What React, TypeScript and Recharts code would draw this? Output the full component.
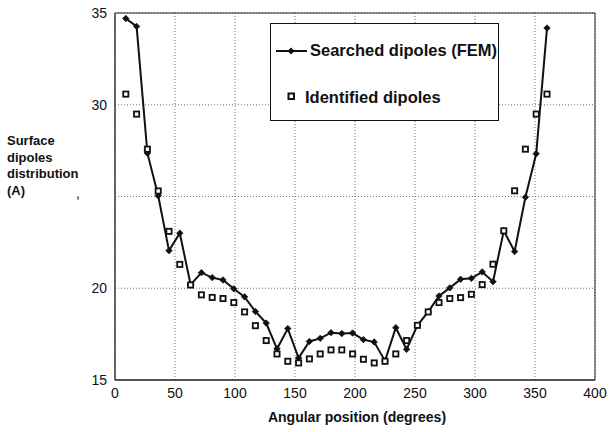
import React from "react";
import {
  LineChart,
  Line,
  XAxis,
  YAxis,
  CartesianGrid,
  Legend,
  ReferenceArea,
} from "recharts";

// angular positions, every 9 degrees
const angles = [
  9, 18, 27, 36, 45, 54, 63, 72, 81, 90, 99, 108, 117, 126, 135, 144, 153, 162,
  171, 180, 189, 198, 207, 216, 225, 234, 243, 252, 261, 270, 279, 288, 297,
  306, 315, 324, 333, 342, 351, 360,
];

// searched dipoles (FEM) – line with diamonds
const searched = [
  34.7, 34.27, 27.36, 25.04, 22.05, 23.0, 20.2, 20.85, 20.58, 20.45, 19.97,
  19.53, 18.73, 18.1, 16.7, 17.8, 16.2, 17.1, 17.27, 17.58, 17.53, 17.56, 17.2,
  17.07, 16.04, 17.85, 16.67, 17.98, 18.71, 19.58, 20.02, 20.49, 20.54, 20.89,
  20.36, 23.13, 22.0, 24.96, 27.33, 34.18,
];

// identified dipoles – open squares
const identified = [
  30.58, 29.49, 27.58, 25.3, 23.1, 21.3, 20.18, 19.64, 19.5, 19.44, 19.22,
  18.71, 17.96, 17.15, 16.42, 16.02, 15.93, 16.15, 16.42, 16.64, 16.64, 16.42,
  16.13, 15.93, 16.02, 16.42, 17.15, 17.98, 18.71, 19.22, 19.44, 19.49, 19.67,
  20.2, 21.31, 23.13, 25.31, 27.58, 29.49, 30.58,
];

const xTicks = [0, 50, 100, 150, 200, 250, 300, 350, 400];
const yTicks = [15, 20, 25, 30, 35];

const FONT = "'Liberation Sans', Arial, Helvetica, sans-serif";

const data = angles.map((a, i) => ({
  angle: a,
  searched: searched[i],
  identified: identified[i],
}));

const Diamond = (props: any) => {
  const { cx, cy, index } = props;
  if (cx == null || cy == null) return <g key={`d-${index}`} />;
  const r = 3.2;
  return (
    <path
      key={`d-${index}`}
      d={`M${cx},${cy - r}L${cx + r},${cy}L${cx},${cy + r}L${cx - r},${cy}Z`}
      fill="#111"
      stroke="#111"
      strokeWidth={0.8}
    />
  );
};

const Square = (props: any) => {
  const { cx, cy, index } = props;
  if (cx == null || cy == null) return <g key={`s-${index}`} />;
  return (
    <rect
      key={`s-${index}`}
      x={cx - 2.6}
      y={cy - 2.6}
      width={5.2}
      height={5.2}
      fill="#fff"
      stroke="#111"
      strokeWidth={1.8}
    />
  );
};

const YTick = (props: any) => {
  const { x, y, payload } = props;
  if (payload.value === 25) {
    // stray comma left of the axis in the original figure
    return (
      <text x={x - 27} y={y - 3} dy="0.35em" textAnchor="end" fontSize={14} fill="#111" fontFamily={FONT}>
        ,
      </text>
    );
  }
  return (
    <text x={x} y={y} dy="0.35em" textAnchor="end" fontSize={14} fill="#111" fontFamily={FONT}>
      {payload.value}
    </text>
  );
};

const renderLegend = () => (
  <div
    style={{
      width: 229,
      height: 98,
      boxSizing: "border-box",
      border: "1.5px solid #111",
      background: "#fff",
      fontFamily: FONT,
      fontWeight: "bold",
      fontSize: 16.5,
      color: "#111",
      position: "relative",
    }}
  >
    <svg width={40} height={98} style={{ position: "absolute", left: 0, top: 0 }}>
      <line x1={5} y1={27} x2={36} y2={27} stroke="#111" strokeWidth={2} />
      <path d="M20,23.5L23.5,27L20,30.5L16.5,27Z" fill="#111" />
      <rect x={17.5} y={69.5} width={5.5} height={5.5} fill="#fff" stroke="#111" strokeWidth={2} />
    </svg>
    <div style={{ position: "absolute", left: 39, top: 17, whiteSpace: "nowrap" }}>
      Searched dipoles (FEM)
    </div>
    <div style={{ position: "absolute", left: 34, top: 64, whiteSpace: "nowrap" }}>
      Identified dipoles
    </div>
  </div>
);

export default function App() {
  return (
    <div
      style={{
        position: "absolute",
        left: 0,
        top: 0,
        width: 610,
        height: 432,
        background: "#fff",
        fontFamily: FONT,
      }}
    >
      <LineChart
        width={610}
        height={432}
        data={data}
        margin={{ top: 13, right: 15, bottom: 22, left: 55 }}
      >
        <CartesianGrid stroke="#777" strokeDasharray="1 2" />
        <XAxis
          dataKey="angle"
          type="number"
          domain={[0, 400]}
          ticks={xTicks}
          tickLine={false}
          axisLine={{ stroke: "#222" }}
          height={30}
          tick={{ fontSize: 14, fill: "#111", fontFamily: FONT }}
        />
        <YAxis
          type="number"
          domain={[15, 35]}
          ticks={yTicks}
          tickLine={false}
          axisLine={{ stroke: "#444" }}
          width={60}
          tick={<YTick />}
        />
        <ReferenceArea x1={0} x2={400} y1={15} y2={35} fill="none" stroke="#222" strokeWidth={1} />
        <Legend
          layout="vertical"
          align="center"
          verticalAlign="middle"
          content={renderLegend}
          wrapperStyle={{ left: 270, top: 23, width: 229, height: 98, bottom: "auto", right: "auto" }}
        />
        <Line
          type="linear"
          dataKey="searched"
          stroke="#111"
          strokeWidth={2}
          dot={Diamond}
          activeDot={false}
          isAnimationActive={false}
        />
        <Line
          type="linear"
          dataKey="identified"
          stroke="none"
          dot={Square}
          activeDot={false}
          isAnimationActive={false}
        />
      </LineChart>
      <div
        style={{
          position: "absolute",
          left: 7,
          top: 133,
          fontSize: 13,
          fontWeight: "bold",
          lineHeight: "16.5px",
          color: "#111",
        }}
      >
        Surface
        <br />
        dipoles
        <br />
        distribution
        <br />
        (A)
      </div>
      <div
        style={{
          position: "absolute",
          left: 115,
          width: 484,
          top: 409,
          textAlign: "center",
          fontSize: 14,
          fontWeight: "bold",
          color: "#111",
        }}
      >
        Angular position (degrees)
      </div>
    </div>
  );
}
